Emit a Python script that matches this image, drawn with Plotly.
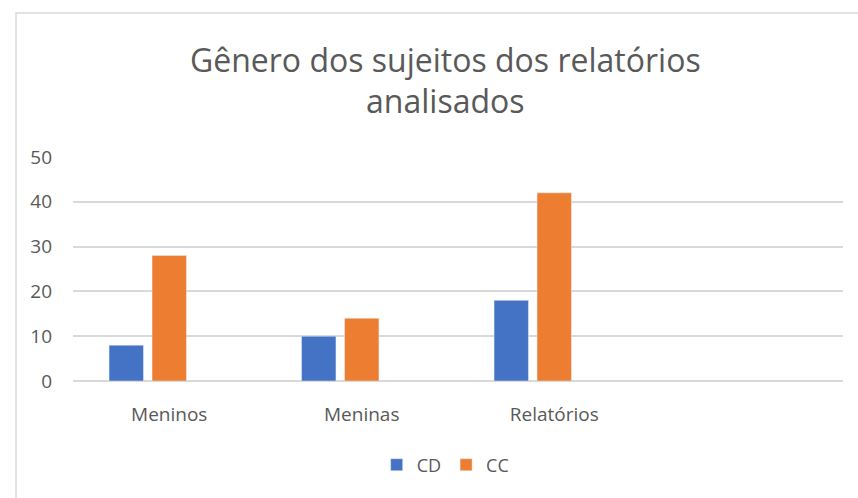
import plotly.graph_objects as go

categorias = ["Meninos", "Meninas", "Relatórios"]
cd = [8, 10, 18]
cc = [28, 14, 42]
vazio = [None, None, None]  # terceira série vazia da planilha original

fonte = "Open Sans, Liberation Sans, sans-serif"
cinza = "#595959"

fig = go.Figure()
fig.add_trace(go.Bar(x=categorias, y=cd, name="CD", marker_color="#4472C4"))
fig.add_trace(go.Bar(x=categorias, y=cc, name="CC", marker_color="#ED7D31"))
fig.add_trace(go.Bar(x=categorias, y=vazio, name="", showlegend=False))

# borda do gráfico
fig.add_shape(type="rect", xref="paper", yref="paper",
              x0=-0.074, x1=2, y0=-2, y1=1.643,
              line=dict(color="#d9d9d9", width=1.5), layer="below")

fig.update_layout(
    width=858, height=498,
    margin=dict(l=73, r=15, t=157, b=117),
    paper_bgcolor="white", plot_bgcolor="white",
    title=dict(text="Gênero dos sujeitos dos relatórios<br>analisados",
               x=0.519, xanchor="center", y=0.856, yanchor="middle",
               font=dict(family=fonte, size=32, color=cinza)),
    barmode="group", bargap=0.33, bargroupgap=0.2,
    font=dict(family=fonte, size=19, color=cinza),
    xaxis=dict(range=[-0.5, 3.5], showgrid=False, showline=False,
               ticks="", ticklabelstandoff=20,
               tickfont=dict(size=19, color=cinza)),
    yaxis=dict(range=[0, 50], dtick=10, gridcolor="#d9d9d9", gridwidth=1.5,
               zeroline=True, zerolinecolor="#d9d9d9", zerolinewidth=1.5,
               showline=False, ticks="", ticklabelstandoff=20,
               tickfont=dict(size=19, color=cinza)),
    legend=dict(orientation="h", x=0.484, xanchor="center",
                y=-0.375, yanchor="middle",
                font=dict(size=18, color=cinza)),
    showlegend=True,
)

fig.write_html("out.html", config={"displayModeBar": False},
               post_script="document.body.style.margin='0';")
